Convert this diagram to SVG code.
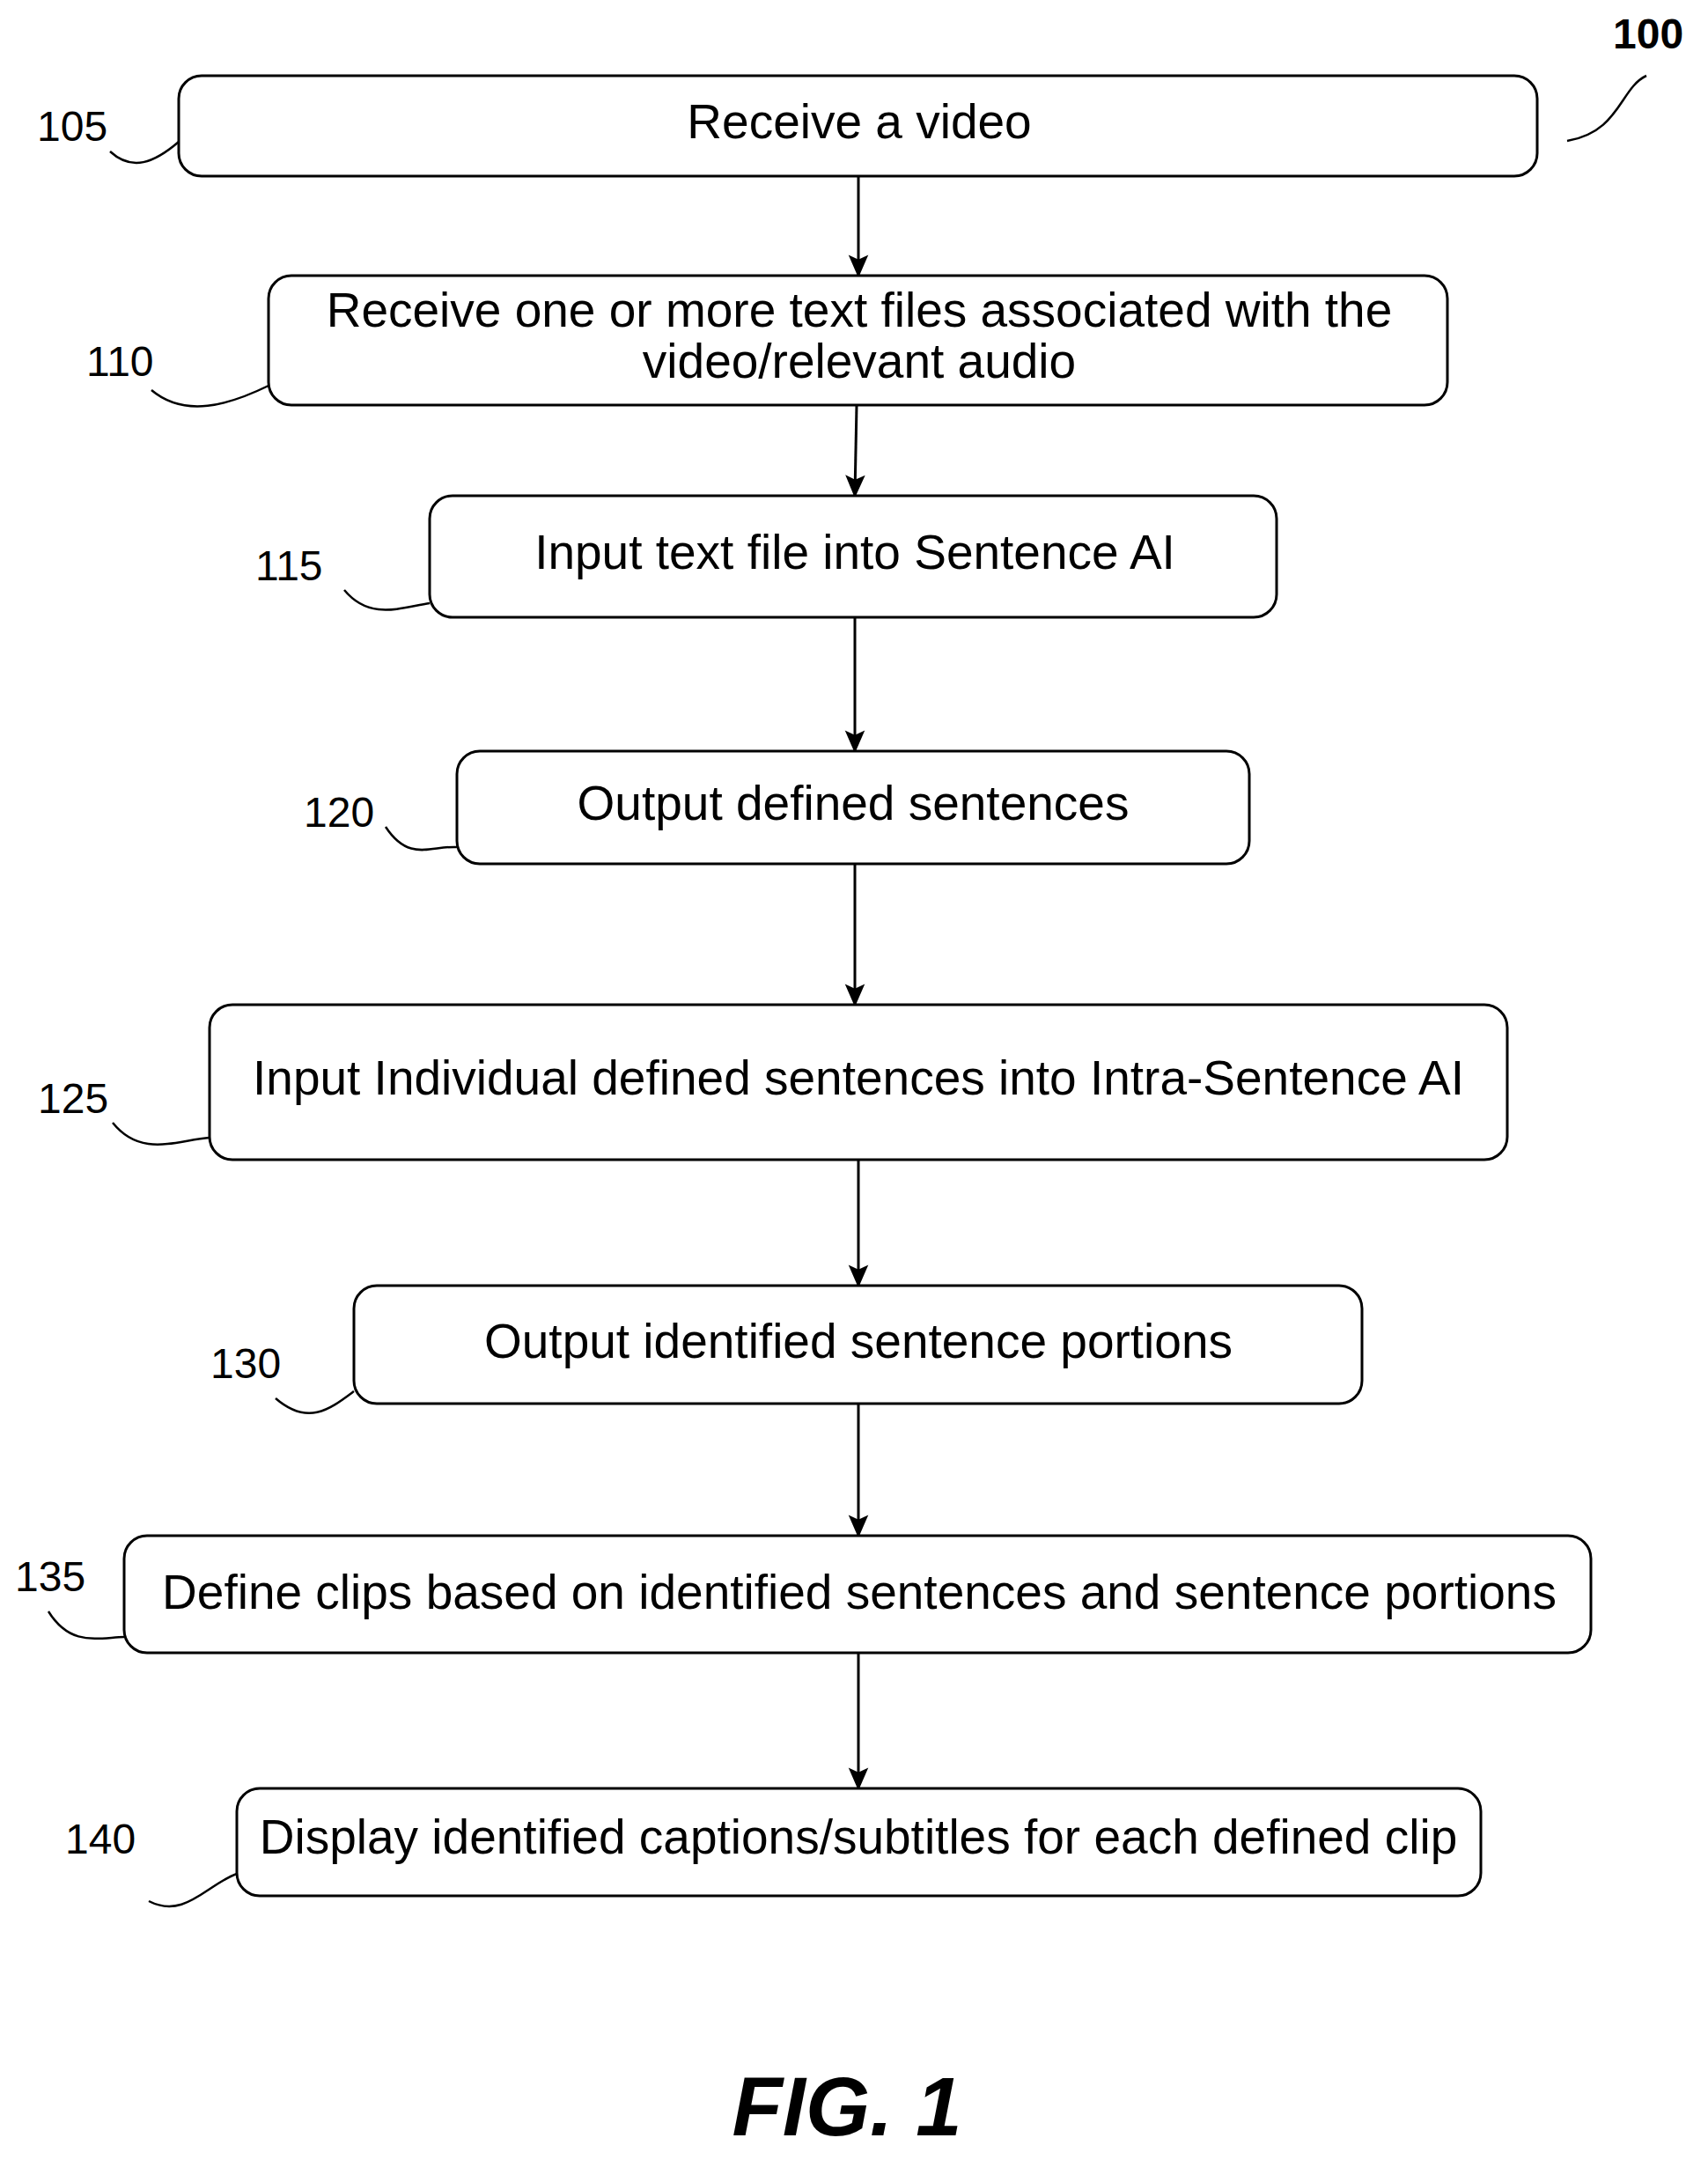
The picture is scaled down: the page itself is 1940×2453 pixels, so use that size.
<svg xmlns="http://www.w3.org/2000/svg" width="1940" height="2453" viewBox="0 0 1940 2453">
<style>
.b{fill:#fff;stroke:#000;stroke-width:3}
.t{font-family:"Liberation Sans",Arial,sans-serif;font-size:55px;text-anchor:middle;fill:#000}
.n{font-family:"Liberation Sans",Arial,sans-serif;font-size:48px;fill:#000}
.l{fill:none;stroke:#000;stroke-width:2.5}
</style>
<defs><marker id="a" markerWidth="26" markerHeight="30" refX="26" refY="13" orient="auto" markerUnits="userSpaceOnUse" viewBox="0 0 30 26"><path d="M0,0 L30,13 L0,26 L6,13 z"/></marker></defs>
<rect width="1940" height="2453" fill="#fff"/>
<g id="connectors" stroke="#000" stroke-width="3">
<line x1="975" y1="200" x2="975" y2="312" marker-end="url(#a)"/>
<line x1="973" y1="460" x2="971" y2="562" marker-end="url(#a)"/>
<line x1="971" y1="701" x2="971" y2="852" marker-end="url(#a)"/>
<line x1="971" y1="981" x2="971" y2="1140" marker-end="url(#a)"/>
<line x1="975" y1="1317" x2="975" y2="1459" marker-end="url(#a)"/>
<line x1="975" y1="1594" x2="975" y2="1743" marker-end="url(#a)"/>
<line x1="975" y1="1877" x2="975" y2="2030" marker-end="url(#a)"/>
</g>
<g id="n105"><rect class="b" x="203" y="86" width="1543" height="114" rx="26"/><text class="t" x="976" y="157">Receive a video</text></g>
<g id="n110"><rect class="b" x="305" y="313" width="1339" height="147" rx="26"/><text class="t" x="976" y="371">Receive one or more text files associated with the</text><text class="t" x="976" y="429">video/relevant audio</text></g>
<g id="n115"><rect class="b" x="488" y="563" width="962" height="138" rx="26"/><text class="t" x="971" y="646">Input text file into Sentence AI</text></g>
<g id="n120"><rect class="b" x="519" y="853" width="900" height="128" rx="26"/><text class="t" x="969" y="931">Output defined sentences</text></g>
<g id="n125"><rect class="b" x="238" y="1141" width="1474" height="176" rx="26"/><text class="t" x="975" y="1243">Input Individual defined sentences into Intra-Sentence AI</text></g>
<g id="n130"><rect class="b" x="402" y="1460" width="1145" height="134" rx="26"/><text class="t" x="975" y="1542">Output identified sentence portions</text></g>
<g id="n135"><rect class="b" x="141" y="1744" width="1666" height="133" rx="26"/><text class="t" x="976" y="1827">Define clips based on identified sentences and sentence portions</text></g>
<g id="n140"><rect class="b" x="269" y="2031" width="1413" height="122" rx="26"/><text class="t" x="975" y="2105">Display identified captions/subtitles for each defined clip</text></g>
<g id="labels">
<text class="n" x="42" y="160">105</text><path class="l" d="M125,172 C150,195 175,185 203,161"/>
<text class="n" x="98" y="427">110</text><path class="l" d="M172,443 C210,475 260,460 305,438"/>
<text class="n" x="290" y="659">115</text><path class="l" d="M391,670 C420,705 455,690 488,685"/>
<text class="n" x="345" y="939">120</text><path class="l" d="M438,939 C465,980 490,960 519,962"/>
<text class="n" x="43" y="1264">125</text><path class="l" d="M128,1275 C160,1315 200,1295 238,1292"/>
<text class="n" x="239" y="1565">130</text><path class="l" d="M313,1588 C350,1620 375,1600 402,1580"/>
<text class="n" x="17" y="1807">135</text><path class="l" d="M55,1830 C80,1870 110,1860 141,1859"/>
<text class="n" x="74" y="2105">140</text><path class="l" d="M169,2159 C210,2180 235,2140 269,2128"/>
<text class="n" x="1832" y="55" style="font-weight:bold">100</text><path class="l" d="M1780,160 C1840,150 1840,100 1870,86"/>
</g>
<text x="962" y="2425" style="font-family:'Liberation Sans',Arial,sans-serif;font-size:94px;font-weight:bold;font-style:italic;text-anchor:middle">FIG. 1</text>
</svg>
